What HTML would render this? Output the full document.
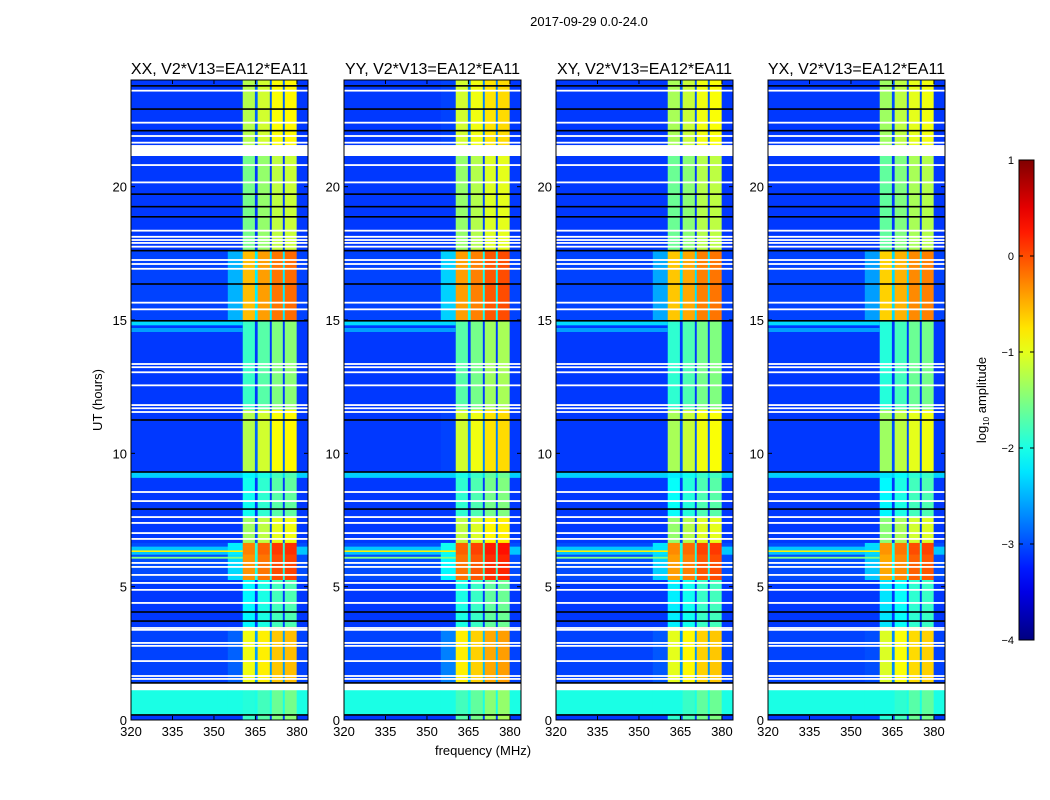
<!DOCTYPE html>
<html><head><meta charset="utf-8"><style>
body{margin:0;background:#fff;}
svg{display:block;font-family:"Liberation Sans",sans-serif;}
</style></head><body>
<svg id="chart" width="1050" height="800" viewBox="0 0 1050 800">
<text x="589" y="26" font-size="13" text-anchor="middle">2017-09-29 0.0-24.0</text>
<g id="panels"></g>
<text x="483" y="755" font-size="13" text-anchor="middle">frequency (MHz)</text>
<text transform="translate(102,400) rotate(-90)" font-size="13" text-anchor="middle">UT (hours)</text>
<defs><linearGradient id="jet" x1="0" y1="1" x2="0" y2="0"></linearGradient></defs>
<g id="cbar"></g>
</svg>
<script>
// ---------- data ----------
const panelTitles = ["XX, V2*V13=EA12*EA11","YY, V2*V13=EA12*EA11","XY, V2*V13=EA12*EA11","YX, V2*V13=EA12*EA11"];
const panelGain = [0, 0.15, -0.05, -0.1];
// time segments (hours), band level and background level (log10 amplitude)
const segT0 =   [21.56, 17.63, 15.0, 11.63, 9.30, 9.08, 7.58, 6.64, 6.50, 6.20, 5.25, 3.49, 1.39, 0.19, 0];
const segT1 =   [24.0, 21.56, 17.63, 15.0, 11.63, 9.30, 9.08, 7.58, 6.64, 6.50, 6.20, 5.25, 3.49, 1.12, 0.19];
const segLevel= [-0.9, -1.2, -0.2, -1.5, -0.9, -1.8, -1.7, -1.0, 0.1, 0.1, 0.0, -1.8, -0.6, -1.6, -1.5];
const segBg =   [-3.1, -3.1, -3.05, -3.1, -3.1, -2.35, -3.1, -3.1, -3.0, -2.4, -3.0, -3.1, -3.05, -2.0, -3.1];
// frequency columns (MHz) and gain relative to band level; isBand: 1 band, 0 background, 0.5 leak
const colLo =  [320, 355, 360.4, 364.8, 365.8, 370.2, 370.9, 374.9, 375.6, 379.9];
const colHi =  [355, 360.4, 364.8, 365.8, 370.2, 370.9, 374.9, 375.6, 379.9, 384];
const colGain= [0, -2.3, -0.35, -2.0, -0.2, -2.0, 0.0, -2.0, 0.05, 0];
const colBand= [0, 0.5, 1, 1, 1, 1, 1, 1, 1, 0];
// extra uniform-colour rows (hours)
const bandRowT0 = [14.80, 14.55, 6.30, 6.05];
const bandRowT1 = [14.99, 14.70, 6.36, 6.12];
const bandRowVal= [-2.3, -2.6, -0.8, -1.5];
// flagged rows
const whiteT = [23.60,22.40,21.90,21.65,20.81,20.16,18.35,18.12,18.0,17.89,17.75,17.25,17.1,16.92,15.65,15.40,13.35,13.23,13.04,12.55,11.81,11.69,11.55,8.55,8.21,7.61,7.39,7.01,6.79,5.89,5.74,5.44,5.14,4.88,4.39,3.45,3.38,2.89,2.78,2.21,1.65,1.54];
const blackT = [23.78,22.91,22.10,19.72,19.25,18.87,17.60,16.35,14.97,11.25,9.30,7.91,4.05,3.71,1.39,0.19];
const bigWhiteT0 = [21.15, 1.12];
const bigWhiteT1 = [21.56, 1.35];
const xTicks = [320,335,350,365,380];
const yTicks = [0,5,10,15,20];
const cbTicks = [1,0,-1,-2,-3,-4];
// ---------- helpers ----------
const NS="http://www.w3.org/2000/svg";
const panelX=[131,344,556,768], PW=177, PT=80, PB=720;
const FMIN=320, FMAX=384, TMAX=24;
function cl(v){return Math.max(0,Math.min(1,v));}
function jet(v){const t=cl((v+4)/5);const r=cl(1.5-Math.abs(4*t-3)),g=cl(1.5-Math.abs(4*t-2)),b=cl(1.5-Math.abs(4*t-1));return `rgb(${Math.round(r*255)},${Math.round(g*255)},${Math.round(b*255)})`;}
function mk(tag,attrs,parent){const e=document.createElementNS(NS,tag);for(const k in attrs)e.setAttribute(k,attrs[k]);parent.appendChild(e);return e;}
const panels=document.getElementById('panels');
panelX.forEach((x0,p)=>{
  const xs=f=>x0+(f-FMIN)/(FMAX-FMIN)*PW;
  const ys=t=>PB-(t/TMAX)*(PB-PT);
  const g=mk('g',{},panels);
  
  
  for(let s=0;s<segT0.length;s++){
    for(let c=0;c<colLo.length;c++){
      const lvl=segLevel[s]+colGain[c]+panelGain[p];
      let v;
      if(colBand[c]>0) v=Math.max(segBg[s],lvl);
      else v=segBg[s];
      const r=mk('rect',{x:xs(colLo[c]),y:ys(segT1[s]),width:xs(colHi[c])-xs(colLo[c])+0.3,height:ys(segT0[s])-ys(segT1[s])+0.3,fill:jet(v)},g);
      
      
    }
  }
  for(let i=0;i<bandRowT0.length;i++){
    const r=mk('rect',{x:x0,y:ys(bandRowT1[i]),width:xs(360.4)-x0,height:ys(bandRowT0[i])-ys(bandRowT1[i]),fill:jet(bandRowVal[i])},g);
    
    
  }
  whiteT.forEach(t=>{const r=mk('rect',{x:x0,y:ys(t)-0.9,width:PW,height:1.8,fill:'#fff'},g);
    
    });
  blackT.forEach(t=>{const r=mk('rect',{x:x0,y:ys(t)-0.8,width:PW,height:1.6,fill:'#000'},g);
    
    });
  for(let i=0;i<bigWhiteT0.length;i++){const r=mk('rect',{x:x0,y:ys(bigWhiteT1[i]),width:PW,height:ys(bigWhiteT0[i])-ys(bigWhiteT1[i]),fill:'#fff'},g);
    
    }
  const fr=mk('rect',{x:x0,y:PT,width:PW,height:PB-PT,fill:'none',stroke:'#000','stroke-width':1},g);
  
  
  const tt=mk('text',{x:x0+PW/2,y:74,'font-size':16,'text-anchor':'middle'},g);tt.textContent=panelTitles[p];
  
  
  xTicks.forEach(f=>{const x=xs(f);
    mk('line',{x1:x,y1:PB,x2:x,y2:PB-4,stroke:'#000'},g);mk('line',{x1:x,y1:PT,x2:x,y2:PT+4,stroke:'#000'},g);
    const t=mk('text',{x:x,y:PB+16,'font-size':13,'text-anchor':'middle'},g);t.textContent=f;
    
    });
  yTicks.forEach(v=>{const y=ys(v);
    mk('line',{x1:x0,y1:y,x2:x0+4,y2:y,stroke:'#000'},g);mk('line',{x1:x0+PW,y1:y,x2:x0+PW-4,y2:y,stroke:'#000'},g);
    const t=mk('text',{x:x0-4,y:y+5,'font-size':13,'text-anchor':'end'},g);t.textContent=v;
    
    });
});
// colorbar
const grad=document.getElementById('jet');
for(let i=0;i<=20;i++){mk('stop',{offset:(i/20),'stop-color':jet(-4+5*i/20)},grad);}
const cb=document.getElementById('cbar');
const cy=v=>640-(v+4)/5*480;
mk('rect',{x:1019,y:160,width:15,height:480,fill:'url(#jet)',stroke:'#000','stroke-width':1},cb);
cbTicks.forEach(v=>{const y=cy(v);
  mk('line',{x1:1019,y1:y,x2:1023,y2:y,stroke:'#000'},cb);mk('line',{x1:1034,y1:y,x2:1030,y2:y,stroke:'#000'},cb);
  const t=mk('text',{x:1014,y:y+4,'font-size':11,'text-anchor':'end'},cb);t.textContent=(v<0?'\u2212'+(-v):v);
  
  });
const lab=mk('text',{transform:'translate(986,400) rotate(-90)','font-size':13,'text-anchor':'middle'},cb);
lab.innerHTML='log<tspan font-size="8" dy="3">10</tspan><tspan dy="-3"> amplitude</tspan>';


</script>
</body></html>
